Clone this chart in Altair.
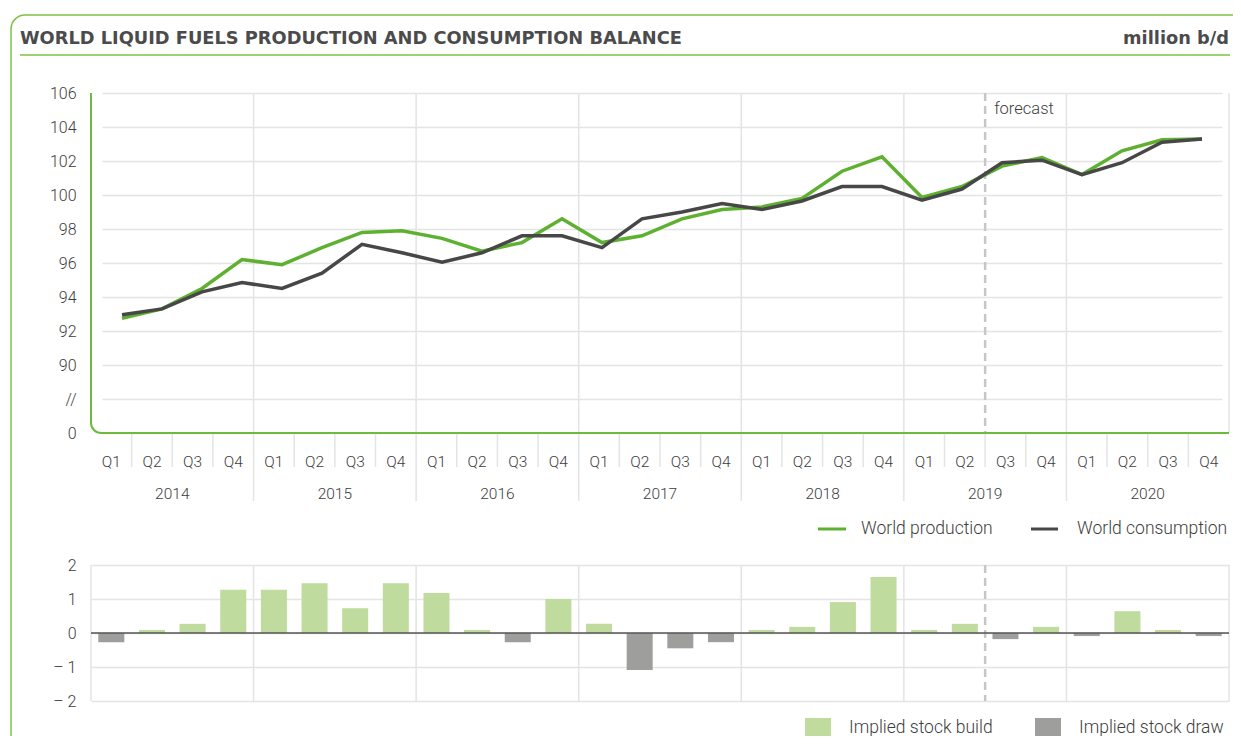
import altair as alt
import pandas as pd

# ---------------- data ----------------
years = [2014, 2015, 2016, 2017, 2018, 2019, 2020]
quarters = ["Q1", "Q2", "Q3", "Q4"]

production = [92.75, 93.3, 94.5, 96.2,
              95.9, 96.9, 97.8, 97.9,
              97.45, 96.7, 97.2, 98.6,
              97.2, 97.6, 98.6, 99.15,
              99.3, 99.8, 101.4, 102.25,
              99.85, 100.5, 101.7, 102.2,
              101.2, 102.6, 103.25, 103.3]

consumption = [92.95, 93.3, 94.3, 94.85,
               94.5, 95.4, 97.1, 96.6,
               96.05, 96.6, 97.6, 97.6,
               96.9, 98.6, 99.0, 99.5,
               99.15, 99.65, 100.5, 100.5,
               99.7, 100.35, 101.9, 102.05,
               101.2, 101.9, 103.1, 103.3]

balance = [-0.27, 0.09, 0.27, 1.27,
           1.27, 1.46, 0.73, 1.46,
           1.18, 0.09, -0.27, 1.0,
           0.27, -1.09, -0.45, -0.27,
           0.09, 0.18, 0.91, 1.65,
           0.09, 0.27, -0.18, 0.18,
           -0.09, 0.64, 0.09, -0.09]

top_ticks = [86, 88, 90, 92, 94, 96, 98, 100, 102, 104, 106]
bottom_ticks = [-2, -1, 0, 1, 2]
forecast_from = "2019 Q3"

title_text = "WORLD LIQUID FUELS PRODUCTION AND CONSUMPTION BALANCE"
unit_text = "million b/d"
legend_lines = ["World production", "World consumption"]
legend_bars = ["Implied stock build", "Implied stock draw"]

# ---------------- styles ----------------
FRAME = "#7dc243"
AXIS_GREEN = "#6dba3c"
GREEN = "#5eb130"
DARK = "#474747"
BUILD = "#bfdb9d"
DRAW = "#9e9e9d"
GRID = "#e4e4e4"
TXT = "#3d3d3d"
FONT = "Roboto"

W = 1138
TOP_H = 340
BOT_T, BOT_B = 472, 608
H = 608

keys = [f"{y} {q}" for y in years for q in quarters]
n = len(keys)
df = pd.DataFrame({
    "key": keys,
    "q": [q for y in years for q in quarters],
    "production": production,
    "consumption": consumption,
    "balance": balance,
})
one = pd.DataFrame({"a": [0]})

band = alt.Scale(type="band", domain=keys, paddingInner=0.36, paddingOuter=0.18)
pts = alt.Scale(type="point", domain=keys, range=[11, 1131])
idx_scale = alt.Scale(domain=[0, n], range=[0, W], zero=False, nice=False)
top_y = alt.Scale(domain=[86, 106], range=[TOP_H, 0], zero=False, nice=False)
bot_y = alt.Scale(domain=[-2, 2], range=[BOT_B, BOT_T], zero=False, nice=False)

top_label_expr = "datum.value == 86 ? '0' : datum.value == 88 ? '//' : datum.label"
bot_label_expr = "datum.value < 0 ? '\u2013 ' + abs(datum.value) : datum.label"

layers = []

# outer frame and heading
layers.append(alt.Chart(one).mark_rect(fillOpacity=0, stroke=FRAME, strokeWidth=1.5, cornerRadius=14).encode(
    x=alt.value(-80), x2=alt.value(1170), y=alt.value(-78), y2=alt.value(700)))
layers.append(alt.Chart(one).mark_text(align="left", baseline="alphabetic", font="DejaVu Sans",
                                       fontWeight="bold", fontSize=17.8, color="#4b4b4b").encode(
    x=alt.value(-71), y=alt.value(-49), text=alt.value(title_text)))
layers.append(alt.Chart(one).mark_text(align="right", baseline="alphabetic", font="DejaVu Sans",
                                       fontWeight="bold", fontSize=17.8, color="#4b4b4b").encode(
    x=alt.value(1138), y=alt.value(-49), text=alt.value(unit_text)))
layers.append(alt.Chart(one).mark_rule(color=FRAME, strokeWidth=1.5).encode(
    x=alt.value(-71), x2=alt.value(1139), y=alt.value(-38)))

# vertical grid / separators
year_idx = pd.DataFrame({"i": [4 * k for k in range(1, len(years))]})
q_idx = pd.DataFrame({"i": [i for i in range(1, n) if i % 4 != 0]})
all_year_idx = pd.DataFrame({"i": [4 * k for k in range(0, len(years) + 1)]})
layers.append(alt.Chart(year_idx).mark_rule(color=GRID, strokeWidth=1.5).encode(
    x=alt.X("i:Q", scale=idx_scale, axis=None), y=alt.value(0), y2=alt.value(408)))
layers.append(alt.Chart(pd.DataFrame({"i": [n]})).mark_rule(color=GRID, strokeWidth=1.5).encode(
    x=alt.X("i:Q", scale=idx_scale, axis=None), y=alt.value(0), y2=alt.value(TOP_H)))
layers.append(alt.Chart(q_idx).mark_rule(color=GRID, strokeWidth=1.5).encode(
    x=alt.X("i:Q", scale=idx_scale, axis=None), y=alt.value(TOP_H), y2=alt.value(374)))
layers.append(alt.Chart(all_year_idx).mark_rule(color=GRID, strokeWidth=1.5).encode(
    x=alt.X("i:Q", scale=idx_scale, axis=None), y=alt.value(BOT_T), y2=alt.value(BOT_B)))

# forecast marker
f_df = pd.DataFrame({"i": [keys.index(forecast_from)], "t": ["forecast"]})
layers.append(alt.Chart(f_df).mark_rule(color="#c6c6c6", strokeWidth=2.5, strokeDash=[8, 5]).encode(
    x=alt.X("i:Q", scale=idx_scale, axis=None), y=alt.value(0), y2=alt.value(TOP_H)))
layers.append(alt.Chart(f_df).mark_rule(color="#c6c6c6", strokeWidth=2.5, strokeDash=[8, 5]).encode(
    x=alt.X("i:Q", scale=idx_scale, axis=None), y=alt.value(BOT_T), y2=alt.value(BOT_B)))
layers.append(alt.Chart(f_df).mark_text(align="left", baseline="middle", dx=9, font=FONT, fontWeight=300,
                                        fontSize=16.5, color=TXT).encode(
    x=alt.X("i:Q", scale=idx_scale, axis=None), y=alt.value(16), text="t:N"))

# top chart lines (with y axis)
layers.append(alt.Chart(df).mark_line(color=GREEN, strokeWidth=3.5).encode(
    x=alt.X("key:N", sort=keys, scale=pts, axis=None),
    y=alt.Y("production:Q", scale=top_y, axis=alt.Axis(
        orient="left", values=top_ticks, labelExpr=top_label_expr, grid=True, gridColor=GRID,
        gridWidth=1.5, domain=False, ticks=False, tickSize=0, labelPadding=15, labelFont=FONT,
        labelFontWeight=300, labelFontSize=16, labelColor=TXT, title=None))))
layers.append(alt.Chart(df).mark_line(color=DARK, strokeWidth=3.5).encode(
    x=alt.X("key:N", sort=keys, scale=pts, axis=None),
    y=alt.Y("consumption:Q", scale=top_y, axis=None)))

# green axis lines with rounded corner
layers.append(alt.Chart(one).mark_rule(color=AXIS_GREEN, strokeWidth=2).encode(
    x=alt.value(0), y=alt.value(0), y2=alt.value(TOP_H - 10)))
layers.append(alt.Chart(one).mark_rule(color=AXIS_GREEN, strokeWidth=2).encode(
    x=alt.value(10), x2=alt.value(W), y=alt.value(TOP_H)))
layers.append(alt.Chart(one).mark_arc(color=AXIS_GREEN, radius=11, radius2=9,
                                      theta=3.14159265, theta2=4.71238898).encode(
    x=alt.value(10), y=alt.value(TOP_H - 10)))

# x labels
layers.append(alt.Chart(df).mark_text(baseline="middle", font=FONT, fontWeight=300, fontSize=15.5, color=TXT).encode(
    x=alt.X("key:N", sort=keys, scale=band, axis=None), y=alt.value(369), text="q:N"))
year_df = pd.DataFrame({"i": [4 * k + 2 for k in range(len(years))], "year": [str(y) for y in years]})
layers.append(alt.Chart(year_df).mark_text(baseline="middle", font=FONT, fontWeight=300, fontSize=15.5, color=TXT).encode(
    x=alt.X("i:Q", scale=idx_scale, axis=None), y=alt.value(401), text="year:N"))

# bottom chart bars
layers.append(alt.Chart(df).mark_bar().encode(
    x=alt.X("key:N", sort=keys, scale=band, axis=None),
    y=alt.Y("balance:Q", scale=bot_y, axis=alt.Axis(
        orient="left", values=bottom_ticks, labelExpr=bot_label_expr, grid=True, gridColor=GRID,
        gridWidth=1.5, domain=False, ticks=False, tickSize=0, labelPadding=15, labelFont=FONT,
        labelFontWeight=300, labelFontSize=16, labelColor=TXT, title=None)),
    color=alt.condition(alt.datum.balance > 0, alt.value(BUILD), alt.value(DRAW))))
layers.append(alt.Chart(pd.DataFrame({"z": [0]})).mark_rule(color="#555555", strokeWidth=1.5).encode(
    y=alt.Y("z:Q", scale=bot_y, axis=None)))

# legends
LEG_FS = 17.5
layers.append(alt.Chart(one).mark_rule(color=GREEN, strokeWidth=3).encode(
    x=alt.value(727), x2=alt.value(755), y=alt.value(436)))
layers.append(alt.Chart(one).mark_rule(color=DARK, strokeWidth=3).encode(
    x=alt.value(940), x2=alt.value(967), y=alt.value(436)))
layers.append(alt.Chart(one).mark_text(align="left", baseline="middle", font=FONT, fontWeight=300, fontSize=LEG_FS, color=TXT).encode(
    x=alt.value(770), y=alt.value(436), text=alt.value(legend_lines[0])))
layers.append(alt.Chart(one).mark_text(align="left", baseline="middle", font=FONT, fontWeight=300, fontSize=LEG_FS, color=TXT).encode(
    x=alt.value(986), y=alt.value(436), text=alt.value(legend_lines[1])))
layers.append(alt.Chart(one).mark_rect(color=BUILD).encode(
    x=alt.value(714), x2=alt.value(740), y=alt.value(625), y2=alt.value(643)))
layers.append(alt.Chart(one).mark_rect(color=DRAW).encode(
    x=alt.value(944), x2=alt.value(970), y=alt.value(625), y2=alt.value(643)))
layers.append(alt.Chart(one).mark_text(align="left", baseline="middle", font=FONT, fontWeight=300, fontSize=LEG_FS, color=TXT).encode(
    x=alt.value(758), y=alt.value(635), text=alt.value(legend_bars[0])))
layers.append(alt.Chart(one).mark_text(align="left", baseline="middle", font=FONT, fontWeight=300, fontSize=LEG_FS, color=TXT).encode(
    x=alt.value(988), y=alt.value(635), text=alt.value(legend_bars[1])))

chart = alt.layer(*layers).resolve_scale(x="independent", y="independent").properties(
    width=W, height=H,
    autosize=alt.AutoSizeParams(type="none"),
    padding={"left": 83, "top": 85, "right": 4, "bottom": 35},
    background="white",
).configure_view(strokeWidth=0)

chart.save("out.html", embed_options={"renderer": "svg", "actions": False})
